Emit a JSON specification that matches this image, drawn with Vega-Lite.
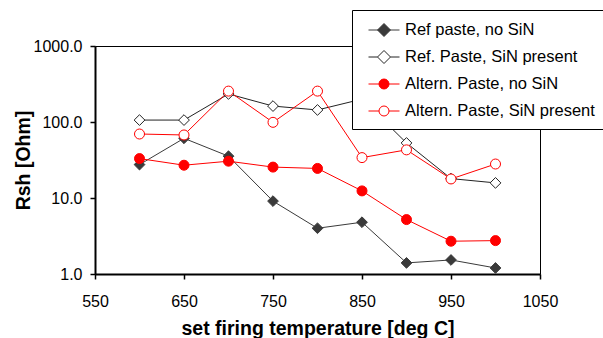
{
  "$schema": "https://vega.github.io/schema/vega-lite/v6.json",
  "width": 445,
  "height": 228,
  "autosize": {"type": "none"},
  "padding": {"left": 95, "top": 46, "right": 63, "bottom": 64},
  "background": "white",
  "config": {
    "view": {"stroke": "black", "strokeWidth": 1},
    "font": "Liberation Sans"
  },
  "data": {
    "values": [
      {"series": "Ref paste, no SiN", "temp": 600, "rsh": 27.5},
      {"series": "Ref paste, no SiN", "temp": 650, "rsh": 61},
      {"series": "Ref paste, no SiN", "temp": 700, "rsh": 35.5},
      {"series": "Ref paste, no SiN", "temp": 750, "rsh": 9.1},
      {"series": "Ref paste, no SiN", "temp": 800, "rsh": 4.0},
      {"series": "Ref paste, no SiN", "temp": 850, "rsh": 4.8},
      {"series": "Ref paste, no SiN", "temp": 900, "rsh": 1.4},
      {"series": "Ref paste, no SiN", "temp": 950, "rsh": 1.53},
      {"series": "Ref paste, no SiN", "temp": 1000, "rsh": 1.2},
      {"series": "Ref. Paste, SiN present", "temp": 600, "rsh": 106},
      {"series": "Ref. Paste, SiN present", "temp": 650, "rsh": 106},
      {"series": "Ref. Paste, SiN present", "temp": 700, "rsh": 234},
      {"series": "Ref. Paste, SiN present", "temp": 750, "rsh": 162},
      {"series": "Ref. Paste, SiN present", "temp": 800, "rsh": 144},
      {"series": "Ref. Paste, SiN present", "temp": 850, "rsh": 200},
      {"series": "Ref. Paste, SiN present", "temp": 900, "rsh": 53},
      {"series": "Ref. Paste, SiN present", "temp": 950, "rsh": 18},
      {"series": "Ref. Paste, SiN present", "temp": 1000, "rsh": 15.8},
      {"series": "Altern. Paste, no SiN", "temp": 600, "rsh": 33},
      {"series": "Altern. Paste, no SiN", "temp": 650, "rsh": 27},
      {"series": "Altern. Paste, no SiN", "temp": 700, "rsh": 30.5},
      {"series": "Altern. Paste, no SiN", "temp": 750, "rsh": 25.5},
      {"series": "Altern. Paste, no SiN", "temp": 800, "rsh": 24.5},
      {"series": "Altern. Paste, no SiN", "temp": 850, "rsh": 12.4},
      {"series": "Altern. Paste, no SiN", "temp": 900, "rsh": 5.2},
      {"series": "Altern. Paste, no SiN", "temp": 950, "rsh": 2.7},
      {"series": "Altern. Paste, no SiN", "temp": 1000, "rsh": 2.75},
      {"series": "Altern. Paste, SiN present", "temp": 600, "rsh": 69.5},
      {"series": "Altern. Paste, SiN present", "temp": 650, "rsh": 67.5},
      {"series": "Altern. Paste, SiN present", "temp": 700, "rsh": 255},
      {"series": "Altern. Paste, SiN present", "temp": 750, "rsh": 99},
      {"series": "Altern. Paste, SiN present", "temp": 800, "rsh": 255},
      {"series": "Altern. Paste, SiN present", "temp": 850, "rsh": 34},
      {"series": "Altern. Paste, SiN present", "temp": 900, "rsh": 43},
      {"series": "Altern. Paste, SiN present", "temp": 950, "rsh": 17.8},
      {"series": "Altern. Paste, SiN present", "temp": 1000, "rsh": 28}
    ]
  },
  "encoding": {
    "x": {
      "field": "temp",
      "type": "quantitative",
      "scale": {"domain": [550, 1050], "nice": false, "zero": false},
      "axis": {
        "values": [550, 650, 750, 850, 950, 1050],
        "format": "d",
        "grid": false,
        "tickSize": 5,
        "tickWidth": 1.5,
        "tickColor": "black",
        "domainColor": "black",
        "domainWidth": 2,
        "labelFontSize": 16,
        "labelColor": "black",
        "labelPadding": 14,
        "labelFlush": false,
        "labelOverlap": false,
        "title": "set firing temperature [deg C]",
        "titleFontSize": 19.5,
        "titleFontWeight": "bold",
        "titleColor": "black",
        "titleY": 60,
        "titleBaseline": "alphabetic"
      }
    },
    "y": {
      "field": "rsh",
      "type": "quantitative",
      "scale": {"type": "log", "domain": [1, 1000], "nice": false},
      "axis": {
        "values": [1, 10, 100, 1000],
        "format": ".1f",
        "grid": false,
        "tickSize": 5,
        "tickWidth": 1.5,
        "tickColor": "black",
        "domainColor": "black",
        "domainWidth": 2,
        "labelFontSize": 16,
        "labelColor": "black",
        "labelPadding": 8,
        "labelOverlap": false,
        "title": "Rsh [Ohm]",
        "titleFontSize": 19.5,
        "titleFontWeight": "bold",
        "titleColor": "black",
        "titleX": -62,
        "titleY": 114
      }
    }
  },
  "layer": [
    {
      "mark": {"type": "line", "strokeWidth": 1},
      "encoding": {
        "stroke": {
          "field": "series",
          "type": "nominal",
          "scale": {
            "domain": ["Ref paste, no SiN", "Ref. Paste, SiN present", "Altern. Paste, no SiN", "Altern. Paste, SiN present"],
            "range": ["#3a3a3a", "#222222", "#ff0000", "#ff0000"]
          }
        }
      }
    },
    {
      "transform": [{"filter": {"field": "series", "oneOf": ["Ref paste, no SiN", "Ref. Paste, SiN present"]}}],
      "mark": {"type": "point", "shape": "diamond", "filled": true, "opacity": 1, "strokeWidth": 1, "size": 115},
      "encoding": {
        "fill": {
          "field": "series",
          "type": "nominal",
          "scale": {
            "domain": ["Ref paste, no SiN", "Ref. Paste, SiN present", "Altern. Paste, no SiN", "Altern. Paste, SiN present"],
            "range": ["#3a3a3a", "#ffffff", "#ff0000", "#ffffff"]
          },
          "legend": {
            "orient": "none",
            "legendX": 257,
            "legendY": -36,
            "title": null,
            "fillColor": "white",
            "strokeColor": "black",
            "padding": 9.5,
            "symbolSize": 400,
            "symbolOffset": 12,
            "symbolStrokeWidth": 1,
            "symbolOpacity": 1,
            "labelOffset": 10.5,
            "rowPadding": 8,
            "labelFontSize": 16.5,
            "labelColor": "black",
            "labelFont": "Liberation Sans",
            "labelLimit": 400,
            "labelExpr": "datum.label + '\u00a0\u00a0\u00a0\u00a0'"
          }
        },
        "stroke": {"field": "series", "type": "nominal"}
      }
    },
    {
      "transform": [{"filter": {"field": "series", "oneOf": ["Altern. Paste, no SiN", "Altern. Paste, SiN present"]}}],
      "mark": {"type": "point", "shape": "circle", "filled": true, "opacity": 1, "strokeWidth": 1, "size": 100},
      "encoding": {
        "fill": {"field": "series", "type": "nominal"},
        "stroke": {"field": "series", "type": "nominal"}
      }
    },
    {
      "transform": [{"filter": {"field": "temp", "lt": 0}}],
      "mark": {"type": "point", "filled": true, "opacity": 1, "strokeWidth": 1},
      "encoding": {
        "shape": {
          "field": "series",
          "type": "nominal",
          "scale": {
            "domain": ["Ref paste, no SiN", "Ref. Paste, SiN present", "Altern. Paste, no SiN", "Altern. Paste, SiN present"],
            "range": [
              "M-1.55,0L1.55,0M0,-0.65L0.65,0L0,0.65L-0.65,0Z",
              "M-1.55,0L-0.65,0M0.65,0L1.55,0M0,-0.65L0.65,0L0,0.65L-0.65,0Z",
              "M-1.55,0L1.55,0M0.5,0A0.5,0.5,0,1,1,-0.5,0A0.5,0.5,0,1,1,0.5,0Z",
              "M-1.55,0L-0.5,0M0.5,0L1.55,0M0.5,0A0.5,0.5,0,1,1,-0.5,0A0.5,0.5,0,1,1,0.5,0Z"
            ]
          }
        },
        "fill": {"field": "series", "type": "nominal"},
        "stroke": {"field": "series", "type": "nominal"}
      }
    }
  ]
}
